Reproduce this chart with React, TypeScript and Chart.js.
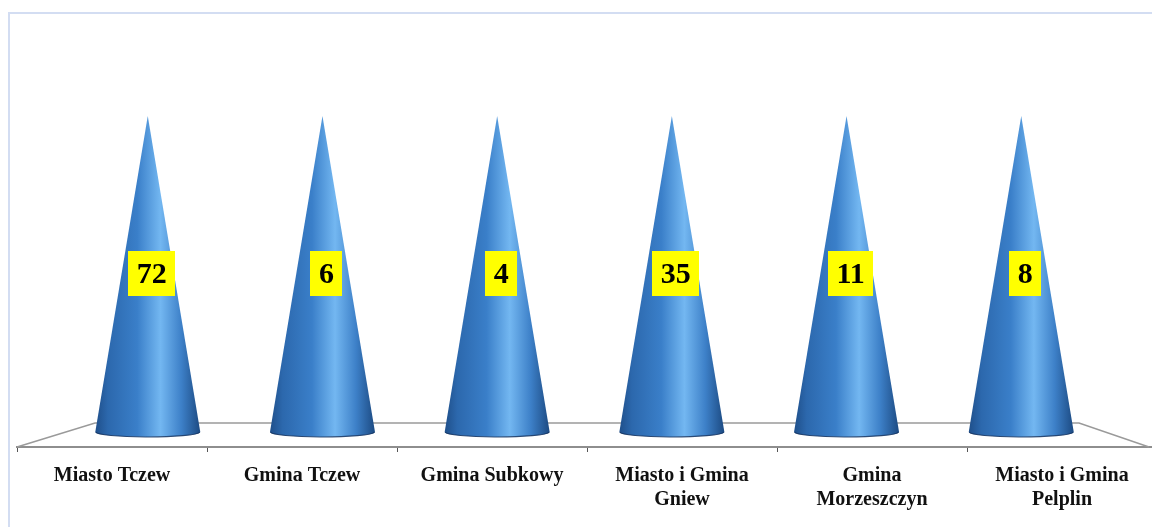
import React, { useEffect, useRef } from "react";
import { Chart, registerables } from "chart.js";

Chart.register(...registerables);

// ---- data ----
const categories: string[][] = [
  ["Miasto Tczew"],
  ["Gmina Tczew"],
  ["Gmina Subkowy"],
  ["Miasto i Gmina", "Gniew"],
  ["Gmina", "Morzeszczyn"],
  ["Miasto i Gmina", "Pelplin"],
];
// values shown in the yellow labels
const counts = [72, 6, 4, 35, 11, 8];
// 100% stacked cone chart with a single series: every cone reaches 100%
const coneShare = [100, 100, 100, 100, 100, 100];

const FONT_SERIF = '"Liberation Serif", "Times New Roman", serif';

const framePlugin = {
  id: "frame",
  beforeDraw(chart: any) {
    const { ctx } = chart;
    ctx.save();
    ctx.fillStyle = "#ffffff";
    ctx.fillRect(0, 0, chart.width, chart.height);
    ctx.strokeStyle = "#d3ddf2";
    ctx.lineWidth = 2;
    ctx.strokeRect(9, 13, chart.width + 20, chart.height + 20);
    ctx.restore();
  },
};

const floorPlugin = {
  id: "floor",
  beforeDatasetsDraw(chart: any) {
    const { ctx, chartArea } = chart;
    const front = chartArea.bottom;
    const back = front - 24;
    const left = chartArea.left;
    const right = chartArea.right - 8;
    ctx.save();
    ctx.strokeStyle = "#9a9a9a";
    ctx.lineWidth = 1.5;
    ctx.beginPath();
    ctx.moveTo(left, front);
    ctx.lineTo(left + 78, back);
    ctx.lineTo(right - 70, back);
    ctx.lineTo(right, front);
    ctx.stroke();
    ctx.restore();
  },
};

const conePlugin = {
  id: "cones",
  beforeDatasetDraw(chart: any, args: any) {
    if (args.index !== 0) return;
    const { ctx } = chart;
    const meta = chart.getDatasetMeta(0);
    meta.data.forEach((el: any) => {
      const { x, y, base, width } = el.getProps(["x", "y", "base", "width"], true);
      const r = width / 2;
      const ry = 5;
      const g = ctx.createLinearGradient(x - r, 0, x + r, 0);
      g.addColorStop(0, "#1f4f8a");
      g.addColorStop(0.12, "#2c68ad");
      g.addColorStop(0.4, "#3a7fc9");
      g.addColorStop(0.62, "#73b7f1");
      g.addColorStop(0.82, "#3d80c8");
      g.addColorStop(1, "#1c4a82");
      ctx.save();
      ctx.fillStyle = g;
      ctx.beginPath();
      ctx.moveTo(x, y);
      ctx.lineTo(x + r, base);
      ctx.ellipse(x, base, r, ry, 0, 0, Math.PI, false);
      ctx.lineTo(x, y);
      ctx.closePath();
      ctx.fill();
      // darker rim at the base
      ctx.strokeStyle = "rgba(20,50,95,0.85)";
      ctx.lineWidth = 1.2;
      ctx.beginPath();
      ctx.ellipse(x, base, r - 0.5, ry, 0, 0.05, Math.PI - 0.05, false);
      ctx.stroke();
      ctx.restore();
    });
    return false;
  },
};

const labelPlugin = {
  id: "valueBoxes",
  afterDatasetsDraw(chart: any) {
    const { ctx } = chart;
    const meta = chart.getDatasetMeta(0);
    ctx.save();
    ctx.font = `bold 30px ${FONT_SERIF}`;
    ctx.textAlign = "center";
    ctx.textBaseline = "middle";
    meta.data.forEach((el: any, i: number) => {
      const { x, y, base } = el.getProps(["x", "y", "base"], true);
      const text = String(counts[i]);
      const tw = ctx.measureText(text).width;
      const bw = tw + 17;
      const bh = 45;
      const cx = x + 4;
      const cy = (y + base) / 2;
      ctx.fillStyle = "#ffff00";
      ctx.fillRect(Math.round(cx - bw / 2), Math.round(cy - bh / 2), Math.round(bw), bh);
      ctx.fillStyle = "#000000";
      ctx.fillText(text, cx, cy + 1);
    });
    ctx.restore();
  },
};

export default function App() {
  const canvasRef = useRef<HTMLCanvasElement | null>(null);

  useEffect(() => {
    const canvas = canvasRef.current;
    if (!canvas) return;
    const chart = new Chart(canvas, {
      type: "bar",
      data: {
        labels: categories,
        datasets: [
          {
            data: coneShare.map((v, i) => ({ x: i, y: v })),
            xAxisID: "xc",
            yAxisID: "y",
            barThickness: 105,
            backgroundColor: "rgba(0,0,0,0)",
          },
        ],
      },
      options: {
        responsive: false,
        animation: false,
        events: [],
        layout: { padding: { top: 116, left: 17, right: 3, bottom: 3 } },
        plugins: {
          legend: { display: false },
          title: { display: false },
          tooltip: { enabled: false },
        },
        scales: {
          x: {
            type: "category",
            position: "bottom",
            offset: true,
            grid: {
              offset: true,
              display: true,
              drawOnChartArea: false,
              drawTicks: true,
              tickLength: 5,
              color: "#555555",
              lineWidth: 1,
            },
            border: { display: true, color: "#8e8e8e", width: 2 },
            ticks: {
              padding: 12,
              maxRotation: 0,
              minRotation: 0,
              autoSkip: false,
              color: "#111111",
              font: { family: FONT_SERIF, size: 20, weight: "bold", lineHeight: 1.2 },
            },
          },
          xc: {
            type: "linear",
            axis: "x",
            display: false,
            offset: false,
            min: -0.7486,
            max: 5.7771,
          },
          y: {
            type: "linear",
            display: false,
            min: -4.75,
            max: 100,
          },
        },
      } as any,
      plugins: [framePlugin, floorPlugin, conePlugin, labelPlugin],
    });
    return () => chart.destroy();
  }, []);

  return (
    <div
      style={{
        position: "fixed",
        left: 0,
        top: 0,
        width: 1152,
        height: 527,
        overflow: "hidden",
        background: "#ffffff",
      }}
    >
      <canvas ref={canvasRef} width={1160} height={527} style={{ display: "block" }} />
    </div>
  );
}
